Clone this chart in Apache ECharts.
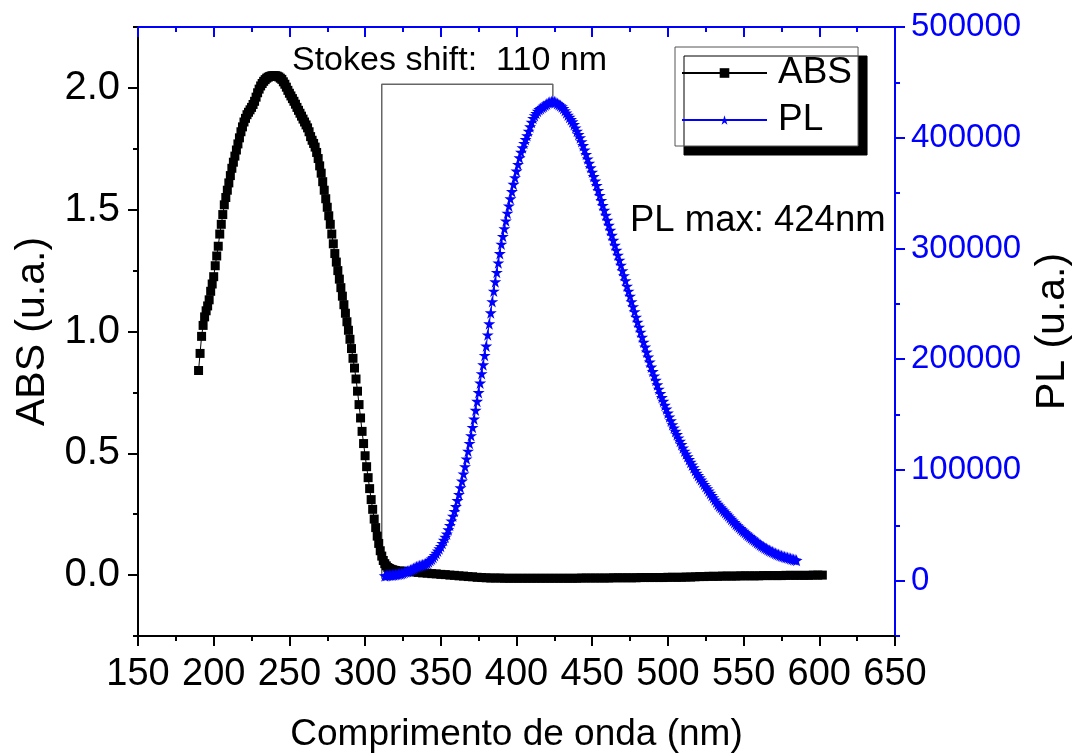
<!DOCTYPE html>
<html><head><meta charset="utf-8">
<script src="https://cdn.jsdelivr.net/npm/echarts@6/dist/echarts.min.js"></script>
<style>html,body{margin:0;padding:0;background:#fff}#c{width:1078px;height:753px}</style>
</head><body><div id="c"></div>
<script>
// ABS, part 1: 190..319 nm, 1 nm step
const absStart1 = 190, absStep1 = 1;
const absVal1 = [
0.84,0.91,0.98,1.025,1.06,1.085,1.105,1.13,1.165,1.195,
1.225,1.27,1.31,1.35,1.40,1.44,1.48,1.52,1.55,1.58,
1.61,1.64,1.67,1.695,1.72,1.745,1.77,1.795,1.82,1.84,
1.86,1.875,1.89,1.90,1.91,1.92,1.932,1.945,1.962,1.98,
1.995,2.008,2.018,2.027,2.034,2.04,2.044,2.047,2.049,2.05,
2.05,2.05,2.048,2.045,2.04,2.035,2.025,2.015,2.003,1.99,
1.978,1.967,1.956,1.945,1.933,1.92,1.908,1.896,1.884,1.872,
1.86,1.848,1.836,1.82,1.80,1.785,1.772,1.757,1.735,1.71,
1.68,1.65,1.615,1.58,1.545,1.51,1.475,1.44,1.40,1.36,
1.32,1.285,1.25,1.215,1.18,1.145,1.11,1.075,1.04,1.005,
0.968,0.93,0.89,0.85,0.805,0.755,0.70,0.645,0.59,0.54,
0.49,0.445,0.40,0.355,0.31,0.27,0.23,0.195,0.16,0.13,
0.10,0.078,0.06,0.047,0.038,0.031,0.027,0.024,0.022,0.02
];
// ABS, part 2: 320..602 nm, 3 nm step
const absStart2 = 320, absStep2 = 3;
const absVal2 = [
0.019,0.017,0.016,0.015,0.013,0.011,0.009,0.008,0.006,0.005,
0.003,0.002,0.000,-0.001,-0.003,-0.004,-0.006,-0.007,-0.009,-0.010,
-0.011,-0.012,-0.012,-0.012,-0.013,-0.013,-0.013,-0.013,-0.013,-0.013,
-0.013,-0.013,-0.013,-0.013,-0.013,-0.013,-0.013,-0.013,-0.013,-0.013,
-0.013,-0.012,-0.012,-0.012,-0.012,-0.012,-0.012,-0.012,-0.011,-0.011,
-0.011,-0.011,-0.011,-0.011,-0.010,-0.010,-0.010,-0.010,-0.010,-0.010,
-0.009,-0.009,-0.009,-0.009,-0.008,-0.008,-0.007,-0.006,-0.006,-0.005,
-0.005,-0.005,-0.004,-0.004,-0.004,-0.004,-0.003,-0.003,-0.003,-0.003,
-0.003,-0.002,-0.002,-0.002,-0.002,-0.002,-0.001,-0.001,-0.001,-0.001,
-0.001,-0.001,0.000,0.000,0.000
];
// PL: 313..585 nm, 1 nm step
const plStart = 313, plStep = 1;
const plVal = [
4500,4600,4800,5000,5100,5200,5300,5500,5700,5900,
6200,6500,7000,7500,8000,8500,9000,9600,10300,11000,
11800,12500,13000,13500,13900,14300,14700,15200,16000,17000,
18300,19600,21000,22800,24800,26800,28800,31000,33700,36500,
39300,42200,46000,50000,54000,58300,62600,67000,72500,78000,
84000,90000,96500,103000,110000,117000,124000,131000,138500,146000,
154000,162000,170000,178500,187000,195000,203500,212000,222000,232000,
242000,252000,261500,270000,278500,287000,295500,304000,311000,318000,
325000,332000,338500,345000,351500,358000,364000,370000,376000,382000,
387000,391000,395000,398500,402000,406000,410000,414000,417500,420000,
422000,424000,425500,426500,427500,428500,429500,430500,431500,432000,
432500,433000,432500,432000,431000,430000,429000,428000,426500,424500,
422500,420500,418500,416500,414500,412000,409000,406000,403000,400000,
396500,393000,389000,385000,381000,377000,373000,369000,365000,361000,
357000,352500,348000,343500,339000,334500,330000,325500,321000,316500,
312000,307500,303000,298500,294000,289500,285000,280000,275500,271000,
266000,261500,257000,252000,247500,243000,238000,233500,229000,224500,
220000,215500,211000,206500,202000,197500,193000,189000,185000,181000,
177000,173000,169000,165500,162000,158500,155000,151500,148000,144500,
141000,138000,135000,132000,129000,126000,123000,120000,117000,114500,
112000,109500,107000,104500,102000,99500,97000,95000,93000,91000,
89000,87000,85000,83000,81000,79000,77000,75000,73000,71000,
69000,67500,66000,64500,63000,61500,60000,58500,57000,55500,
54000,52500,51000,49700,48400,47100,45800,44600,43400,42200,
41000,39900,38800,37700,36600,35500,34500,33500,32500,31600,
30700,29800,29000,28200,27400,26700,26000,25300,24700,24100,
23500,23000,22500,22000,21600,21200,20800,20400,20000,19600,
19200,18800,18400
];
// Stokes shift bracket (nm, ABS units)
const bracketNm = [311, 311, 424, 424];
const bracketAbs = [-0.015, 2.015, 2.015, 1.965];
// labelled tick values
const absTicks = [0, 0.5, 1.0, 1.5, 2.0];
const plTicks = [0, 100000, 200000, 300000, 400000, 500000];
const seriesNames = ['ABS', 'PL'];
const xTitle = 'Comprimento de onda (nm)';
const yLeftTitle = 'ABS (u.a.)';
const yRightTitle = 'PL (u.a.)';
const note1 = 'Stokes shift:  110 nm';
const note2 = 'PL max: 424nm';

const absData = absVal1.map((v, i) => [absStart1 + i * absStep1, v])
  .concat(absVal2.map((v, i) => [absStart2 + i * absStep2, v]));
const plData = plVal.map((v, i) => [plStart + i * plStep, v]);
const bracketData = bracketNm.map((x, i) => [x, bracketAbs[i]]);

const FONT = '"Liberation Sans", Arial, sans-serif';
const BLUE = '#0000ff';
const STAR = 'path://M50,0 L61,35 L98,35 L68,57 L79,91 L50,70 L21,91 L32,57 L2,35 L39,35 Z';

const chart = echarts.init(document.getElementById('c'), null, {renderer: 'canvas'});
chart.setOption({
  animation: false,
  backgroundColor: '#fff',
  grid: {left: 138, right: 183, top: 27, bottom: 117, outerBoundsMode: 'none', containLabel: false},
  legend: {
    data: seriesNames, orient: 'vertical', left: 675, top: 47,
    padding: [7, 6, 7, 6], itemGap: 9, itemWidth: 85, itemHeight: 12,
    textStyle: {fontSize: 37, color: '#000', fontFamily: FONT, lineHeight: 38, padding: [0, 0, 0, 6]},
    backgroundColor: '#fff', borderColor: '#555', borderWidth: 1, borderRadius: 0,
    shadowColor: '#000', shadowBlur: 0, shadowOffsetX: 9, shadowOffsetY: 9
  },
  xAxis: [
    {type: 'value', position: 'bottom', min: 150, max: 650, interval: 50,
     name: xTitle, nameLocation: 'middle', nameGap: 80,
     nameTextStyle: {fontSize: 37, color: '#000', fontFamily: FONT},
     axisLine: {show: true, onZero: false, lineStyle: {color: '#000', width: 2}},
     axisTick: {show: true, length: 10, lineStyle: {color: '#000', width: 2}},
     minorTick: {show: true, splitNumber: 2, length: 5, lineStyle: {color: '#000', width: 2}},
     axisLabel: {fontSize: 38, color: '#000', margin: 20, fontFamily: FONT},
     splitLine: {show: false}, minorSplitLine: {show: false}},
    {type: 'value', position: 'top', min: 150, max: 650, interval: 50,
     axisLine: {show: true, onZero: false, lineStyle: {color: BLUE, width: 2}},
     axisTick: {show: true, inside: true, length: 10, lineStyle: {color: BLUE, width: 2}},
     minorTick: {show: true, splitNumber: 2, length: 5, lineStyle: {color: BLUE, width: 2}},
     axisLabel: {show: false}, splitLine: {show: false}}
  ],
  yAxis: [
    {type: 'value', position: 'left', min: -0.25, max: 2.25, interval: 0.25,
     name: yLeftTitle, nameLocation: 'middle', nameGap: 82,
     nameTextStyle: {fontSize: 41, color: '#000', fontFamily: FONT},
     axisLine: {show: true, onZero: false, lineStyle: {color: '#000', width: 2}},
     axisTick: {show: true, length: 10, customValues: absTicks, lineStyle: {color: '#000', width: 2}},
     axisLabel: {fontSize: 40, color: '#000', margin: 18, fontFamily: FONT, customValues: absTicks,
       formatter: v => Number(v).toFixed(1)},
     splitLine: {show: false}},
    {type: 'value', position: 'right', min: -50000, max: 500000, interval: 50000,
     name: yRightTitle, nameLocation: 'middle', nameGap: 135,
     nameTextStyle: {fontSize: 41, color: '#000', fontFamily: FONT},
     axisLine: {show: true, onZero: false, lineStyle: {color: BLUE, width: 2}},
     axisTick: {show: true, length: 10, customValues: plTicks, lineStyle: {color: BLUE, width: 2}},
     axisLabel: {fontSize: 33, color: BLUE, margin: 16, fontFamily: FONT, customValues: plTicks,
       formatter: v => String(v)},
     splitLine: {show: false}},
    {type: 'value', position: 'left', min: -0.25, max: 2.25, interval: 0.25,
     axisLine: {show: false},
     axisTick: {show: true, length: 5, lineStyle: {color: '#000', width: 2}},
     axisLabel: {show: false}, splitLine: {show: false}},
    {type: 'value', position: 'right', min: -50000, max: 500000, interval: 50000,
     axisLine: {show: false},
     axisTick: {show: true, length: 5, lineStyle: {color: BLUE, width: 2}},
     axisLabel: {show: false}, splitLine: {show: false}}
  ],
  graphic: [
    {type: 'text', left: 292, top: 44, style: {text: note1, fill: '#000', font: '34px "Liberation Sans", Arial, sans-serif'}},
    {type: 'text', left: 630, top: 202, style: {text: note2, fill: '#000', font: '36.5px "Liberation Sans", Arial, sans-serif'}}
  ],
  series: [
    {type: 'line', name: 'bracket', xAxisIndex: 0, yAxisIndex: 0, data: bracketData,
     symbol: 'none', silent: true, z: 1, lineStyle: {color: '#666', width: 1.5}},
    {type: 'line', name: seriesNames[0], xAxisIndex: 0, yAxisIndex: 0, data: absData,
     symbol: 'rect', symbolSize: 9, showAllSymbol: true, z: 2,
     itemStyle: {color: '#000'}, lineStyle: {color: '#000', width: 1}},
    {type: 'line', name: seriesNames[1], xAxisIndex: 0, yAxisIndex: 1, data: plData,
     symbol: STAR, symbolSize: 12, showAllSymbol: true, z: 3,
     itemStyle: {color: BLUE}, lineStyle: {color: BLUE, width: 1}}
  ]
});
</script></body></html>
